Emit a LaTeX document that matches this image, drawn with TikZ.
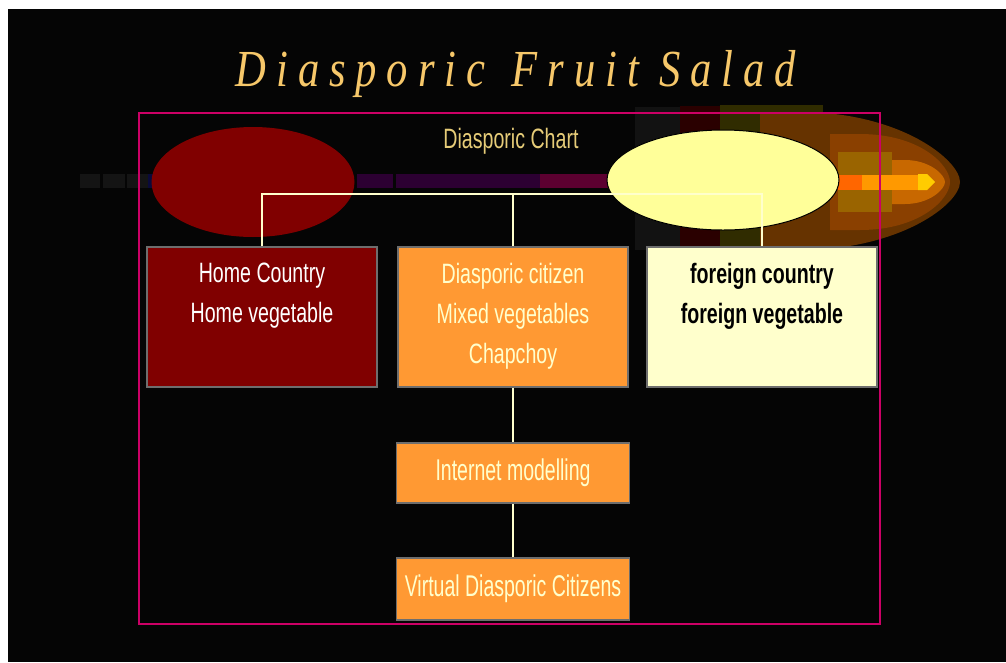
\documentclass[tikz,border=0pt]{standalone}
\usepackage{fontspec}
\usepackage{xcolor}
\usepackage{tikz}
\usetikzlibrary{shapes.geometric}
\newfontfamily\narrowfont[FakeStretch=0.7]{Liberation Sans}
\newfontfamily\slimfont[FakeStretch=0.65]{Liberation Sans}
\newfontfamily\titlefont[FakeStretch=0.82,LetterSpace=19]{Liberation Serif}
\definecolor{slidebg}{HTML}{050505}
\definecolor{framepink}{HTML}{CC0066}
\definecolor{homered}{HTML}{800000}
\definecolor{mixorange}{HTML}{FF9933}
\definecolor{foreigncream}{HTML}{FFFFCC}
\definecolor{ovalyellow}{HTML}{FFFF99}
\definecolor{boxgray}{HTML}{6E6E6E}
\definecolor{titlegold}{HTML}{F7C86A}
\definecolor{chartgold}{HTML}{E6CC78}
\definecolor{bandgray}{HTML}{141414}
\definecolor{bandnavy}{HTML}{0A0A3A}
\definecolor{bandplum}{HTML}{2C0032}
\definecolor{bandwine}{HTML}{5C0030}
\definecolor{glowgray}{HTML}{121212}
\definecolor{glowred}{HTML}{2A0000}
\definecolor{glowolive}{HTML}{302C00}
\definecolor{glowbrown}{HTML}{663300}
\definecolor{glowrust}{HTML}{8A4000}
\definecolor{glowochre}{HTML}{9A6400}
\definecolor{glowamber}{HTML}{C86800}
\definecolor{fireorange}{HTML}{FF6600}
\definecolor{firelight}{HTML}{FF9900}
\definecolor{fireyellow}{HTML}{FFCC00}
\newcommand{\boxtext}[1]{\parbox[c][140pt][t]{230pt}{\centering\narrowfont\fontsize{28}{40}\selectfont\vspace*{16pt}#1}}

\begin{document}
\begin{tikzpicture}[x=1pt, y=-1pt,
    chartbox/.style={draw=boxgray, line width=1.5pt, inner sep=0pt},
    lowbox/.style={chartbox, fill=mixorange, text=foreigncream,
      minimum width=233pt, minimum height=60pt,
      font=\slimfont\fontsize{30}{36}\selectfont},
    link/.style={draw=foreigncream, line width=1.5pt}]
  \useasboundingbox (0,0) rectangle (1006,662);
  \fill[white] (0,0) rectangle (1006,662);
  \fill[slidebg] (8,9) rectangle (1006,662);

  % band behind the ovals
  \foreach \xa/\xb/\c in {80/100/bandgray, 103/125/bandgray, 127/148/bandgray,
      148/160/bandnavy, 357/393/bandplum, 396/540/bandplum, 540/610/bandwine}
    \fill[\c] (\xa,174) rectangle (\xb,188);

  % glow to the right of the foreign oval
  \fill[glowgray] (635,107) rectangle (823,250);
  \fill[glowred] (680,106) rectangle (823,250);
  \fill[glowolive] (720,105) rectangle (823,250);
  \fill[glowbrown] (760,112) -- (800,112) .. controls (900,112) and (960,160) .. (960,182)
    .. controls (960,204) and (900,250) .. (800,250) -- (760,250) -- cycle;
  \fill[glowrust] (830,134) -- (860,134) .. controls (920,134) and (950,165) .. (950,182)
    .. controls (950,199) and (920,230) .. (860,230) -- (830,230) -- cycle;
  \fill[glowochre] (838,152) rectangle (892,212);
  \fill[glowamber] (892,160) -- (905,160) .. controls (930,160) and (945,175) .. (945,182)
    .. controls (945,189) and (930,204) .. (905,204) -- (892,204) -- cycle;
  \fill[fireorange] (838,175) rectangle (862,190);
  \fill[firelight] (862,175) rectangle (918,190);
  \fill[fireyellow] (918,174) -- (927,174) -- (935,182) -- (927,190) -- (918,190) -- cycle;

  \node[ellipse, fill=homered, inner sep=0pt, minimum width=203pt,
        minimum height=110pt] (homeoval) at (253,182) {};
  \node[ellipse, fill=ovalyellow, draw=black, line width=1pt, inner sep=0pt,
        minimum width=232pt, minimum height=100pt] (foreignoval) at (723,180) {};

  \node[anchor=base, text=titlegold, font=\titlefont\itshape\fontsize{52}{60}\selectfont]
    (title) at (516,86) {Diasporic\hspace{6pt} Fruit Salad};
  \node[anchor=base, text=chartgold, font=\narrowfont\fontsize{28}{34}\selectfont]
    (charttitle) at (511,148) {Diasporic Chart};

  % chart boxes
  \node[chartbox, fill=homered, text=white] (home) at (262,317)
    {\boxtext{Home Country\\Home vegetable}};
  \node[chartbox, fill=mixorange, text=foreigncream] (mixed) at (513,317)
    {\boxtext{Diasporic citizen\\Mixed vegetables\\Chapchoy}};
  \node[chartbox, fill=foreigncream, text=black] (foreign) at (762,317)
    {\boxtext{\bfseries foreign country\\foreign vegetable}};
  \node[lowbox] (internet) at (513,473) {Internet modelling};
  \node[lowbox, minimum height=62pt] (virtual) at (513,589) {Virtual Diasporic Citizens};

  \coordinate (hub) at (513,194);
  \draw[link] (home.north) |- (hub) -| (foreign.north);
  \draw[link] (hub) -- (mixed.north);
  \draw[link] (mixed.south) -- (internet.north);
  \draw[link] (internet.south) -- (virtual.north);

  \draw[framepink, line width=2pt] (139,113) rectangle (880,624);
\end{tikzpicture}
\end{document}
